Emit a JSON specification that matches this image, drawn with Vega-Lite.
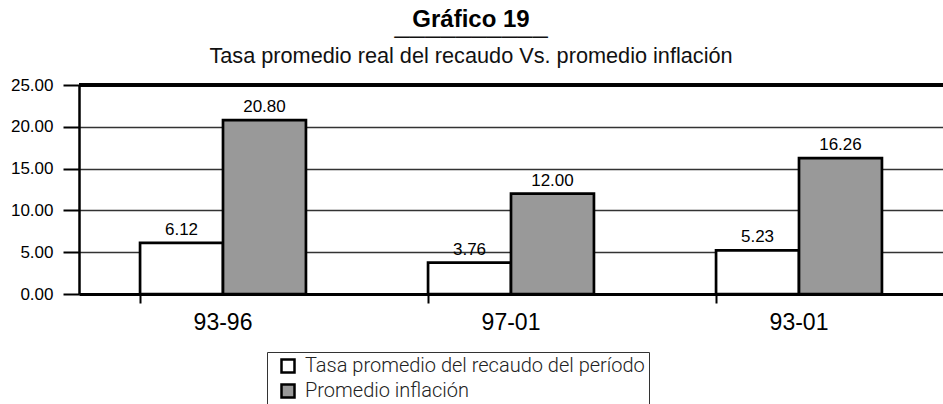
{
  "$schema": "https://vega.github.io/schema/vega-lite/v6.json",
  "autosize": "none",
  "width": 864,
  "height": 209,
  "padding": {"left": 79, "top": 85, "right": 0, "bottom": 110},
  "background": "white",
  "title": {
    "text": "Gráfico 19",
    "subtitle": ["──────────", "Tasa promedio real del recaudo Vs. promedio inflación"],
    "anchor": "middle",
    "frame": "group",
    "dx": -40,
    "offset": 8,
    "font": "Liberation Sans",
    "fontSize": 24,
    "fontWeight": "bold",
    "color": "black",
    "subtitleFont": "Liberation Sans",
    "subtitleFontSize": 21.7,
    "subtitleFontWeight": 500,
    "subtitleColor": "#111111",
    "subtitlePadding": -5,
    "subtitleLineHeight": 19
  },
  "data": {
    "values": [
      {"periodo": "93-96", "serie": "Tasa promedio del recaudo del período", "valor": 6.12},
      {"periodo": "93-96", "serie": "Promedio inflación", "valor": 20.80},
      {"periodo": "97-01", "serie": "Tasa promedio del recaudo del período", "valor": 3.76},
      {"periodo": "97-01", "serie": "Promedio inflación", "valor": 12.00},
      {"periodo": "93-01", "serie": "Tasa promedio del recaudo del período", "valor": 5.23},
      {"periodo": "93-01", "serie": "Promedio inflación", "valor": 16.26}
    ]
  },
  "encoding": {
    "x": {
      "field": "periodo",
      "type": "nominal",
      "sort": ["93-96", "97-01", "93-01"],
      "scale": {"paddingInner": 0.424, "paddingOuter": 0.212},
      "axis": {
        "title": null,
        "labelAngle": 0,
        "labelFont": "Liberation Sans",
        "labelFontSize": 23,
        "labelColor": "black",
        "labelPadding": 8,
        "bandPosition": 0,
        "domainColor": "black",
        "domainWidth": 3,
        "tickColor": "black",
        "tickWidth": 2,
        "tickSize": 9,
        "grid": false
      }
    }
  },
  "layer": [
    {
      "mark": {"type": "rule", "color": "black", "strokeWidth": 3},
      "encoding": {"y": {"datum": 25, "type": "quantitative"}, "x": null}
    },
    {
      "mark": {"type": "bar", "stroke": "black", "strokeWidth": 2.7},
      "encoding": {
        "xOffset": {"field": "serie", "type": "nominal", "sort": ["Tasa promedio del recaudo del período", "Promedio inflación"], "scale": {"paddingInner": 0, "paddingOuter": 0}},
        "y": {
          "field": "valor",
          "type": "quantitative",
          "scale": {"domain": [0, 25], "nice": false},
          "axis": {
            "title": null,
            "values": [0, 5, 10, 15, 20, 25],
            "format": ".2f",
            "labelFont": "Liberation Sans",
            "labelFontSize": 17,
            "labelColor": "black",
            "labelPadding": 10,
            "domainColor": "black",
            "domainWidth": 2.5,
            "tickColor": "black",
            "tickWidth": 2,
            "tickSize": 16,
            "grid": true,
            "gridColor": "#333333",
            "gridWidth": 1.3
          }
        },
        "fill": {
          "field": "serie",
          "type": "nominal",
          "sort": ["Tasa promedio del recaudo del período", "Promedio inflación"],
          "scale": {"domain": ["Tasa promedio del recaudo del período", "Promedio inflación"], "range": ["white", "#999999"]},
          "legend": {
            "title": null,
            "orient": "none",
            "legendX": 188,
            "legendY": 267,
            "direction": "vertical",
            "symbolType": "square",
            "symbolSize": 169,
            "symbolStrokeColor": "black",
            "symbolStrokeWidth": 2.5,
            "symbolOffset": 7,
            "labelFont": "Roboto",
            "labelFontWeight": 300,
            "labelFontSize": 20,
            "labelColor": "#222222",
            "labelOffset": 7,
            "labelLimit": 600,
            "labelExpr": "datum.label + '\u00a0\u00a0\u00a0\u00a0\u00a0'",
            "rowPadding": 1,
            "padding": 4,
            "strokeColor": "#333333",
            "fillColor": "white"
          }
        }
      }
    },
    {
      "mark": {"type": "text", "baseline": "alphabetic", "dy": -8, "font": "Liberation Sans", "fontSize": 17, "color": "black"},
      "encoding": {
        "xOffset": {"field": "serie", "type": "nominal", "sort": ["Tasa promedio del recaudo del período", "Promedio inflación"]},
        "y": {"field": "valor", "type": "quantitative"},
        "text": {"field": "valor", "type": "quantitative", "format": ".2f"}
      }
    }
  ],
  "config": {"view": {"stroke": null}}
}
